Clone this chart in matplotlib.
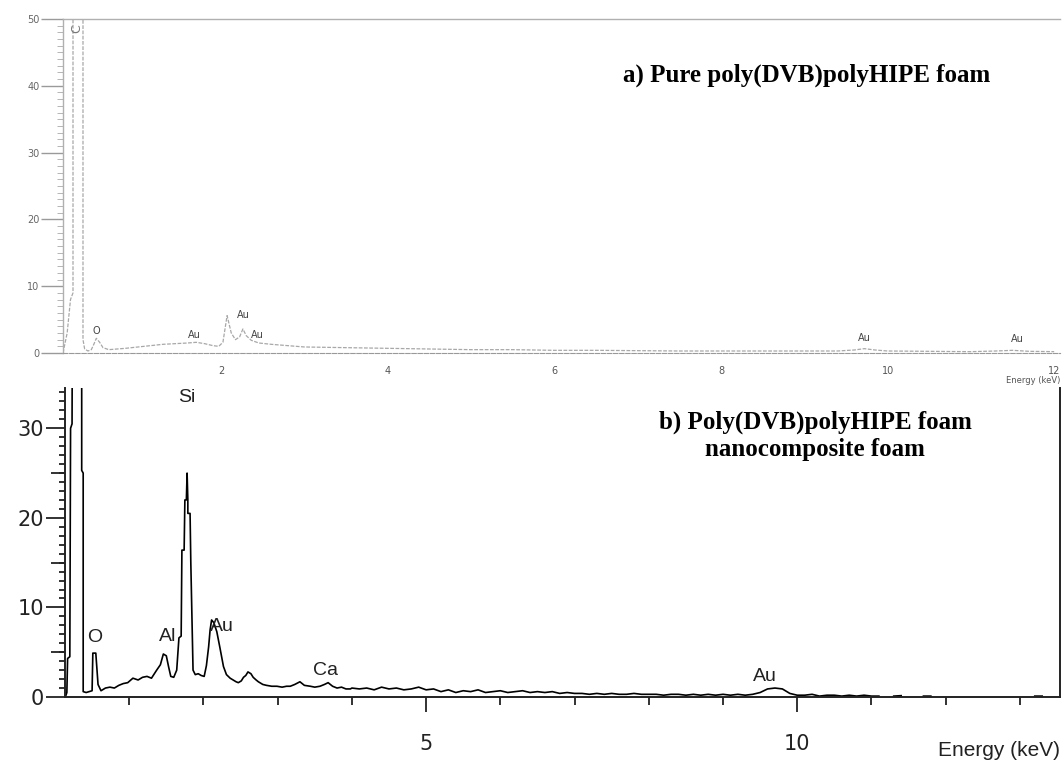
import matplotlib.pyplot as plt
from matplotlib.ticker import MultipleLocator
import numpy as np

# ---- a) pure poly(DVB) polyHIPE foam (energy keV, counts) ----
a_energy = [0.10, 0.15, 0.19, 0.22, 0.22, 0.34, 0.34, 0.36, 0.40, 0.44, 0.47,
            0.50, 0.54, 0.58, 0.65, 0.75, 0.85, 1.00, 1.15, 1.30, 1.45, 1.60,
            1.70, 1.80, 1.90, 1.97, 2.02, 2.07, 2.12, 2.17, 2.22, 2.26, 2.30,
            2.36, 2.45, 2.60, 2.80, 3.00, 3.50, 4.00, 4.50, 5.00, 5.50, 6.00,
            6.50, 7.00, 7.50, 8.00, 8.50, 9.00, 9.40, 9.60, 9.72, 9.85, 10.0,
            10.5, 11.0, 11.3, 11.5, 11.7, 12.0]
a_counts = [0.0, 3.0, 8.0, 9.0, 60.0, 60.0, 2.0, 0.6, 0.3, 0.5, 1.3,
            2.2, 1.6, 0.8, 0.5, 0.6, 0.7, 0.9, 1.1, 1.3, 1.4, 1.5,
            1.6, 1.4, 1.1, 1.0, 1.6, 5.6, 3.0, 2.0, 2.4, 3.6, 2.6,
            1.9, 1.5, 1.3, 1.1, 0.9, 0.8, 0.7, 0.6, 0.5, 0.5, 0.4,
            0.4, 0.35, 0.3, 0.3, 0.3, 0.3, 0.3, 0.45, 0.65, 0.45, 0.3,
            0.25, 0.2, 0.3, 0.4, 0.25, 0.2]

# ---- b) nanocomposite foam (energy keV, counts) ----
b_energy = [0.14, 0.16, 0.17, 0.20, 0.21, 0.23, 0.24, 0.36, 0.36, 0.38, 0.38,
            0.42, 0.46, 0.50, 0.51, 0.55, 0.58, 0.62, 0.68, 0.74, 0.80, 0.86,
            0.92, 0.98, 1.05, 1.12, 1.18, 1.24, 1.30, 1.37, 1.42, 1.46, 1.50,
            1.53, 1.56, 1.60, 1.64, 1.67, 1.70, 1.71, 1.74, 1.75, 1.77, 1.78,
            1.79, 1.79, 1.82, 1.83, 1.85, 1.86, 1.89, 1.93, 1.97, 2.01, 2.04,
            2.07, 2.09, 2.11, 2.14, 2.18, 2.22, 2.27, 2.31, 2.36, 2.40, 2.44,
            2.47, 2.51, 2.54, 2.57, 2.60, 2.64, 2.67, 2.71, 2.74, 2.80, 2.85,
            2.92, 2.99, 3.06, 3.12, 3.17, 3.23, 3.30, 3.36, 3.44, 3.50, 3.57,
            3.63, 3.68, 3.74, 3.80, 3.86, 3.92, 3.98,
            4.0, 4.1, 4.2, 4.3, 4.4, 4.5, 4.6, 4.7, 4.8, 4.9, 5.0,
            5.1, 5.2, 5.3, 5.4, 5.5, 5.6, 5.7, 5.8, 5.9, 6.0,
            6.1, 6.2, 6.3, 6.4, 6.5, 6.6, 6.7, 6.8, 6.9, 7.0,
            7.1, 7.2, 7.3, 7.4, 7.5, 7.6, 7.7, 7.8, 7.9, 8.0,
            8.1, 8.2, 8.3, 8.4, 8.5, 8.6, 8.7, 8.8, 8.9, 9.0,
            9.1, 9.2, 9.3, 9.4, 9.5, 9.6, 9.7, 9.8, 9.9, 10.0,
            10.1, 10.2, 10.3, 10.4, 10.5, 10.6, 10.7, 10.8, 10.9, 11.0,
            11.1, 11.2, 11.3, 11.4, 11.5, 11.6, 11.7, 11.8, 11.9, 12.0,
            12.1, 12.2, 12.3, 12.4, 12.5, 12.6, 12.7, 12.8, 12.9, 13.0,
            13.1, 13.2, 13.3, 13.4, 13.5]
b_counts = [0.0, 0.5, 4.3, 4.5, 30.0, 30.5, 60.0, 60.0, 25.3, 25.0, 0.6,
            0.5, 0.6, 0.7, 4.9, 4.9, 1.4, 0.7, 1.0, 1.1, 1.0, 1.3,
            1.5, 1.6, 2.1, 1.9, 2.2, 2.3, 2.1, 3.0, 3.6, 4.8, 4.6,
            3.4, 2.3, 2.2, 3.0, 6.6, 6.8, 16.4, 16.4, 22.0, 22.0, 25.0,
            22.0, 20.5, 20.5, 15.0, 6.7, 3.0, 2.5, 2.6, 2.4, 2.3, 3.5,
            5.6, 7.5, 8.6, 8.3, 7.3, 5.6, 3.4, 2.5, 2.1, 1.9, 1.7,
            1.6, 1.8, 2.2, 2.4, 2.8, 2.6, 2.2, 1.9, 1.7, 1.4, 1.3,
            1.2, 1.2, 1.1, 1.2, 1.2, 1.4, 1.7, 1.3, 1.2, 1.1, 1.2,
            1.4, 1.6, 1.2, 1.0, 1.1, 0.9, 0.9,
            1.0, 0.9, 1.0, 0.8, 1.1, 0.9, 1.0, 0.8, 0.9, 1.1, 0.8,
            0.9, 0.6, 0.8, 0.5, 0.7, 0.6, 0.8, 0.5, 0.6, 0.7,
            0.5, 0.6, 0.7, 0.5, 0.6, 0.5, 0.6, 0.4, 0.5, 0.4,
            0.4, 0.3, 0.4, 0.3, 0.4, 0.3, 0.3, 0.4, 0.3, 0.3,
            0.3, 0.2, 0.3, 0.3, 0.2, 0.3, 0.2, 0.3, 0.2, 0.3,
            0.2, 0.3, 0.2, 0.3, 0.5, 0.9, 1.0, 0.9, 0.4, 0.2,
            0.2, 0.3, 0.1, 0.2, 0.2, 0.1, 0.2, 0.1, 0.2, 0.1,
            0.1, np.nan, 0.1, 0.15, np.nan, np.nan, 0.1, 0.1, np.nan, np.nan,
            0.1, np.nan, np.nan, 0.1, np.nan, 0.1, np.nan, np.nan, np.nan, np.nan,
            np.nan, 0.1, 0.1, np.nan, 0.1]

# peak labels: (text, energy, counts)
a_peaks = [("O", 0.50, 2.6), ("Au", 1.68, 2.0), ("Au", 2.27, 5.0),
           ("Au", 2.43, 1.9), ("Au", 9.72, 1.5), ("Au", 11.56, 1.3)]
b_peaks = [("O", 0.54, 6.6), ("Al", 1.52, 6.7), ("Si", 1.78, 33.4),
           ("Au", 2.25, 7.9), ("Ca", 3.64, 3.0), ("Au", 9.57, 2.3)]

W, H = 1063, 770
fig = plt.figure(figsize=(W / 100, H / 100), dpi=100)

# ---------------- top panel (faint scan) ----------------
grey = "#9a9a9a"
ax_a = fig.add_axes([63 / W, 1 - 353 / H, 997 / W, 334 / H])
ax_a.plot(a_energy, a_counts, color="#a8a8a8", lw=0.9, ls=(0, (3, 1.2)))
ax_a.set_xlim(0.1, 12.07)
ax_a.set_ylim(0, 50)
ax_a.yaxis.set_major_locator(MultipleLocator(10))
ax_a.yaxis.set_minor_locator(MultipleLocator(1))
ax_a.set_xticks([2, 4, 6, 8, 10, 12])
ax_a.tick_params(axis="y", which="major", length=16, width=1.0, color=grey,
                 labelsize=7, labelcolor="#666666", pad=1)
ax_a.tick_params(axis="y", which="minor", length=4, width=0.7, color="#b5b5b5")
ax_a.tick_params(axis="x", length=0, labelsize=7, labelcolor="#555555", pad=9)
for side in ["left", "top"]:
    ax_a.spines[side].set_color("#b0b0b0")
    ax_a.spines[side].set_linewidth(1.0)
ax_a.spines["right"].set_visible(False)
ax_a.spines["bottom"].set_color("#999999")
ax_a.spines["bottom"].set_linestyle((0, (4, 1.5)))
ax_a.text(0.27, 48.5, "C", rotation=90, fontsize=9, color="#777777",
          ha="center", va="center")
for name, e, c in a_peaks:
    ax_a.text(e, c, name, fontsize=7, color="#444444", ha="center", va="bottom")
ax_a.text(1.0, -0.07, "Energy (keV)", transform=ax_a.transAxes, fontsize=6,
          color="#555555", ha="right", va="top")

# ---------------- bottom panel ----------------
ax_b = fig.add_axes([65 / W, 1 - 697 / H, 995 / W, 309 / H])
ax_b.plot(b_energy, b_counts, color="black", lw=1.2)
ax_b.set_xlim(0.135, 13.54)
ax_b.set_ylim(0, 34.5)
ax_b.yaxis.set_major_locator(MultipleLocator(10))
ax_b.yaxis.set_minor_locator(MultipleLocator(1))
ax_b.xaxis.set_major_locator(MultipleLocator(5))
ax_b.xaxis.set_minor_locator(MultipleLocator(1))
ax_b.tick_params(axis="y", which="major", length=14, width=1.3, labelsize=15,
                 pad=1, colors="#222222")
ax_b.tick_params(axis="y", which="minor", length=4.5, width=1.3, color="#222222")
ax_b.tick_params(axis="x", which="major", length=11, width=1.3, labelsize=15,
                 pad=16, colors="#222222")
ax_b.tick_params(axis="x", which="minor", length=5.5, width=1.3, color="#222222")
# medium ticks at 5, 15, 25
ax_b.hlines([5, 15, 25], -0.014, 0, transform=ax_b.get_yaxis_transform(),
            color="#222222", lw=1.3, clip_on=False)
ax_b.spines["top"].set_visible(False)
for side in ["left", "bottom", "right"]:
    ax_b.spines[side].set_linewidth(1.4)
    ax_b.spines[side].set_color("#222222")
for name, e, c in b_peaks:
    ax_b.text(e, c, name, fontsize=14, color="#222222", ha="center", va="center",
              family="Liberation Sans")

# ---------------- captions ----------------
fig.text(807 / W, 1 - 75 / H, "a) Pure poly(DVB)polyHIPE foam",
         family="Liberation Serif", fontweight="bold", fontsize=18,
         ha="center", va="center")
fig.text(815 / W, 1 - 436 / H, "b) Poly(DVB)polyHIPE foam\nnanocomposite foam",
         family="Liberation Serif", fontweight="bold", fontsize=18,
         ha="center", va="center", linespacing=1.2)
fig.text(1060 / W, 1 - 750 / H, "Energy (keV)", fontsize=15, color="#222222",
         family="Liberation Sans", ha="right", va="center")

fig.savefig("out.png", dpi=100)
